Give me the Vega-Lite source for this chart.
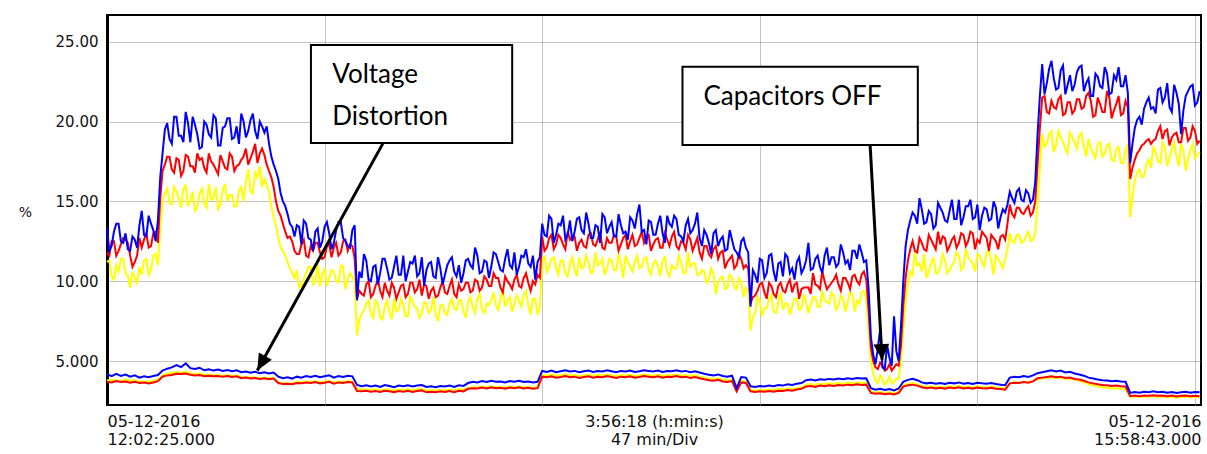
{
"$schema": "https://vega.github.io/schema/vega-lite/v6.json",
"width": 1094, "height": 390,
"autosize": {"type": "none"},
"padding": {"left": 107, "top": 15, "right": 6, "bottom": 49},
"background": "white",
"config": {"view": {"stroke": "black", "strokeWidth": 2}, "font": "DejaVu Sans"},
"datasets": {
"thd": [
{"t":0,"B":13.3,"R":11.8,"Y":11.2,"b":4.18,"r":3.70,"y":3.78},
{"t":1,"B":12.2,"R":12.5,"Y":10.3,"b":4.05,"r":3.66,"y":3.82},
{"t":2,"B":13.6,"R":11.6,"Y":11.0,"b":4.20,"r":3.75,"y":3.80},
{"t":3,"B":12.5,"R":12.3,"Y":11.4,"b":4.07,"r":3.68,"y":3.74},
{"t":4,"B":13.0,"R":12.6,"Y":10.5,"b":4.15,"r":3.72,"y":3.85},
{"t":5,"B":11.9,"R":11.6,"Y":9.6,"b":4.02,"r":3.64,"y":3.76},
{"t":6,"B":12.6,"R":11.2,"Y":10.2,"b":4.10,"r":3.70,"y":3.80},
{"t":7,"B":13.5,"R":12.7,"Y":10.9,"b":3.96,"r":3.62,"y":3.70},
{"t":8,"B":12.9,"R":12.6,"Y":11.3,"b":4.05,"r":3.66,"y":3.72},
{"t":9,"B":14.1,"R":12.1,"Y":10.4,"b":3.98,"r":3.60,"y":3.70},
{"t":10,"B":13.2,"R":13.0,"Y":11.6,"b":4.06,"r":3.66,"y":3.76},
{"t":11,"B":13.8,"R":12.4,"Y":11.0,"b":4.12,"r":3.74,"y":3.82},
{"t":12,"B":18.0,"R":16.9,"Y":15.0,"b":4.40,"r":4.02,"y":4.12},
{"t":13,"B":19.9,"R":17.8,"Y":15.8,"b":4.52,"r":4.10,"y":4.20},
{"t":14,"B":18.6,"R":17.0,"Y":14.8,"b":4.60,"r":4.12,"y":4.25},
{"t":15,"B":20.3,"R":17.7,"Y":15.6,"b":4.75,"r":4.20,"y":4.30},
{"t":16,"B":19.1,"R":16.6,"Y":14.6,"b":4.62,"r":4.18,"y":4.26},
{"t":17,"B":20.6,"R":17.9,"Y":16.0,"b":4.85,"r":4.22,"y":4.32},
{"t":18,"B":18.7,"R":17.2,"Y":15.1,"b":4.55,"r":4.14,"y":4.22},
{"t":19,"B":19.8,"R":16.8,"Y":14.4,"b":4.50,"r":4.10,"y":4.18},
{"t":20,"B":18.3,"R":17.6,"Y":15.5,"b":4.58,"r":4.12,"y":4.20},
{"t":21,"B":20.0,"R":17.1,"Y":14.9,"b":4.42,"r":4.05,"y":4.14},
{"t":22,"B":19.2,"R":18.0,"Y":16.1,"b":4.48,"r":4.08,"y":4.16},
{"t":23,"B":20.4,"R":17.3,"Y":15.2,"b":4.40,"r":4.04,"y":4.10},
{"t":24,"B":18.5,"R":16.7,"Y":14.5,"b":4.46,"r":4.06,"y":4.12},
{"t":25,"B":19.6,"R":17.5,"Y":15.7,"b":4.38,"r":4.02,"y":4.08},
{"t":26,"B":20.2,"R":17.0,"Y":15.0,"b":4.44,"r":4.06,"y":4.12},
{"t":27,"B":18.9,"R":17.8,"Y":15.4,"b":4.36,"r":4.00,"y":4.06},
{"t":28,"B":19.7,"R":17.2,"Y":14.7,"b":4.42,"r":4.04,"y":4.10},
{"t":29,"B":20.5,"R":17.6,"Y":15.9,"b":4.30,"r":3.92,"y":3.98},
{"t":30,"B":19.0,"R":18.3,"Y":16.2,"b":4.34,"r":3.96,"y":4.00},
{"t":31,"B":20.1,"R":17.7,"Y":15.6,"b":4.26,"r":3.90,"y":3.96},
{"t":32,"B":19.4,"R":18.6,"Y":16.8,"b":4.32,"r":3.94,"y":3.98},
{"t":33,"B":20.0,"R":18.0,"Y":17.2,"b":4.24,"r":3.88,"y":3.92},
{"t":34,"B":19.3,"R":17.9,"Y":16.4,"b":4.30,"r":3.92,"y":3.96},
{"t":35,"B":18.6,"R":16.9,"Y":15.6,"b":4.22,"r":3.86,"y":3.92},
{"t":36,"B":17.3,"R":15.9,"Y":14.0,"b":4.28,"r":3.90,"y":3.94},
{"t":37,"B":16.4,"R":14.4,"Y":12.7,"b":4.02,"r":3.62,"y":3.66},
{"t":38,"B":15.0,"R":13.6,"Y":11.9,"b":3.92,"r":3.56,"y":3.60},
{"t":39,"B":14.2,"R":12.7,"Y":11.2,"b":3.98,"r":3.58,"y":3.62},
{"t":40,"B":13.4,"R":12.5,"Y":10.5,"b":3.90,"r":3.54,"y":3.58},
{"t":41,"B":13.5,"R":11.7,"Y":10.7,"b":4.02,"r":3.62,"y":3.70},
{"t":42,"B":12.3,"R":12.3,"Y":9.8,"b":3.96,"r":3.60,"y":3.66},
{"t":43,"B":13.6,"R":11.6,"Y":10.5,"b":4.06,"r":3.66,"y":3.72},
{"t":44,"B":12.6,"R":12.2,"Y":10.9,"b":4.00,"r":3.62,"y":3.68},
{"t":45,"B":13.1,"R":12.4,"Y":10.0,"b":4.08,"r":3.68,"y":3.74},
{"t":46,"B":12.1,"R":11.8,"Y":9.7,"b":3.98,"r":3.60,"y":3.66},
{"t":47,"B":13.4,"R":11.5,"Y":10.8,"b":4.04,"r":3.64,"y":3.70},
{"t":48,"B":13.0,"R":12.3,"Y":10.2,"b":4.10,"r":3.70,"y":3.76},
{"t":49,"B":12.4,"R":12.1,"Y":10.6,"b":3.96,"r":3.58,"y":3.66},
{"t":50,"B":13.7,"R":11.6,"Y":9.9,"b":4.06,"r":3.66,"y":3.72},
{"t":51,"B":12.7,"R":12.5,"Y":10.9,"b":4.00,"r":3.62,"y":3.68},
{"t":52,"B":12.2,"R":11.9,"Y":10.1,"b":4.08,"r":3.68,"y":3.74},
{"t":53,"B":13.2,"R":12.2,"Y":10.3,"b":4.04,"r":3.66,"y":3.70},
{"t":54,"B":8.8,"R":8.9,"Y":6.6,"b":3.50,"r":3.12,"y":3.24},
{"t":55,"B":10.2,"R":9.2,"Y":7.9,"b":3.42,"r":3.10,"y":3.20},
{"t":56,"B":11.3,"R":9.8,"Y":8.6,"b":3.48,"r":3.14,"y":3.22},
{"t":57,"B":10.0,"R":9.0,"Y":8.0,"b":3.40,"r":3.08,"y":3.18},
{"t":58,"B":11.0,"R":9.7,"Y":8.8,"b":3.46,"r":3.12,"y":3.24},
{"t":59,"B":10.5,"R":9.4,"Y":7.7,"b":3.38,"r":3.06,"y":3.16},
{"t":60,"B":11.4,"R":9.9,"Y":8.4,"b":3.50,"r":3.14,"y":3.22},
{"t":61,"B":10.1,"R":9.1,"Y":8.1,"b":3.44,"r":3.10,"y":3.20},
{"t":62,"B":10.9,"R":9.6,"Y":8.9,"b":3.36,"r":3.04,"y":3.14},
{"t":63,"B":10.4,"R":9.3,"Y":8.2,"b":3.46,"r":3.12,"y":3.22},
{"t":64,"B":11.6,"R":9.8,"Y":8.5,"b":3.42,"r":3.08,"y":3.18},
{"t":65,"B":10.6,"R":9.2,"Y":7.8,"b":3.48,"r":3.14,"y":3.24},
{"t":66,"B":11.1,"R":9.9,"Y":8.7,"b":3.40,"r":3.06,"y":3.16},
{"t":67,"B":10.3,"R":9.5,"Y":8.3,"b":3.46,"r":3.12,"y":3.22},
{"t":68,"B":11.5,"R":9.1,"Y":8.0,"b":3.50,"r":3.16,"y":3.26},
{"t":69,"B":10.7,"R":9.7,"Y":8.6,"b":3.38,"r":3.04,"y":3.14},
{"t":70,"B":11.2,"R":9.4,"Y":8.2,"b":3.42,"r":3.08,"y":3.18},
{"t":71,"B":10.2,"R":9.0,"Y":7.9,"b":3.36,"r":3.04,"y":3.14},
{"t":72,"B":10.8,"R":9.6,"Y":8.5,"b":3.44,"r":3.10,"y":3.20},
{"t":73,"B":10.4,"R":9.3,"Y":8.0,"b":3.40,"r":3.06,"y":3.16},
{"t":74,"B":11.3,"R":9.7,"Y":8.6,"b":3.46,"r":3.12,"y":3.22},
{"t":75,"B":10.6,"R":9.2,"Y":8.3,"b":3.38,"r":3.04,"y":3.16},
{"t":76,"B":11.0,"R":9.8,"Y":8.8,"b":3.48,"r":3.14,"y":3.24},
{"t":77,"B":10.5,"R":9.5,"Y":8.1,"b":3.44,"r":3.10,"y":3.20},
{"t":78,"B":11.4,"R":9.9,"Y":8.7,"b":3.62,"r":3.26,"y":3.32},
{"t":79,"B":10.8,"R":9.4,"Y":8.4,"b":3.70,"r":3.30,"y":3.36},
{"t":80,"B":11.6,"R":10.0,"Y":8.9,"b":3.66,"r":3.28,"y":3.34},
{"t":81,"B":10.6,"R":9.6,"Y":8.2,"b":3.74,"r":3.34,"y":3.40},
{"t":82,"B":11.2,"R":10.1,"Y":8.6,"b":3.68,"r":3.28,"y":3.34},
{"t":83,"B":10.9,"R":9.7,"Y":8.8,"b":3.76,"r":3.36,"y":3.42},
{"t":84,"B":11.7,"R":10.2,"Y":8.5,"b":3.70,"r":3.30,"y":3.36},
{"t":85,"B":10.7,"R":9.6,"Y":8.9,"b":3.72,"r":3.32,"y":3.38},
{"t":86,"B":11.4,"R":10.3,"Y":8.4,"b":3.66,"r":3.26,"y":3.32},
{"t":87,"B":11.0,"R":9.8,"Y":9.0,"b":3.74,"r":3.34,"y":3.40},
{"t":88,"B":11.8,"R":10.1,"Y":8.6,"b":3.70,"r":3.30,"y":3.36},
{"t":89,"B":10.9,"R":9.7,"Y":8.8,"b":3.76,"r":3.36,"y":3.42},
{"t":90,"B":11.5,"R":10.2,"Y":9.1,"b":3.68,"r":3.28,"y":3.34},
{"t":91,"B":11.1,"R":9.9,"Y":8.5,"b":3.72,"r":3.32,"y":3.38},
{"t":92,"B":11.6,"R":10.0,"Y":8.9,"b":3.66,"r":3.26,"y":3.32},
{"t":93,"B":11.2,"R":10.4,"Y":7.9,"b":3.70,"r":3.30,"y":3.36},
{"t":94,"B":13.6,"R":12.8,"Y":11.2,"b":4.38,"r":4.02,"y":4.14},
{"t":95,"B":12.8,"R":12.1,"Y":10.6,"b":4.32,"r":3.98,"y":4.10},
{"t":96,"B":13.9,"R":12.9,"Y":11.4,"b":4.40,"r":4.04,"y":4.16},
{"t":97,"B":12.9,"R":12.3,"Y":10.8,"b":4.30,"r":3.96,"y":4.08},
{"t":98,"B":13.5,"R":12.7,"Y":11.3,"b":4.36,"r":4.00,"y":4.12},
{"t":99,"B":12.6,"R":12.0,"Y":10.5,"b":4.42,"r":4.06,"y":4.16},
{"t":100,"B":13.8,"R":12.6,"Y":11.1,"b":4.34,"r":3.98,"y":4.10},
{"t":101,"B":13.1,"R":12.8,"Y":10.7,"b":4.38,"r":4.02,"y":4.12},
{"t":102,"B":14.0,"R":12.4,"Y":11.5,"b":4.30,"r":3.94,"y":4.06},
{"t":103,"B":13.0,"R":12.2,"Y":10.9,"b":4.36,"r":4.00,"y":4.10},
{"t":104,"B":13.6,"R":12.9,"Y":11.2,"b":4.40,"r":4.04,"y":4.14},
{"t":105,"B":12.7,"R":12.3,"Y":10.6,"b":4.32,"r":3.96,"y":4.08},
{"t":106,"B":13.4,"R":12.6,"Y":11.0,"b":4.38,"r":4.02,"y":4.12},
{"t":107,"B":14.2,"R":12.1,"Y":11.4,"b":4.34,"r":3.98,"y":4.10},
{"t":108,"B":13.0,"R":12.7,"Y":10.8,"b":4.42,"r":4.06,"y":4.16},
{"t":109,"B":13.7,"R":12.4,"Y":11.3,"b":4.36,"r":4.00,"y":4.10},
{"t":110,"B":12.8,"R":12.8,"Y":10.7,"b":4.30,"r":3.94,"y":4.06},
{"t":111,"B":13.5,"R":12.3,"Y":11.1,"b":4.38,"r":4.02,"y":4.12},
{"t":112,"B":13.1,"R":12.9,"Y":11.6,"b":4.34,"r":3.98,"y":4.08},
{"t":113,"B":14.0,"R":12.5,"Y":10.9,"b":4.40,"r":4.04,"y":4.14},
{"t":114,"B":13.3,"R":12.2,"Y":11.2,"b":4.32,"r":3.96,"y":4.06},
{"t":115,"B":14.8,"R":12.7,"Y":10.8,"b":4.36,"r":4.00,"y":4.10},
{"t":116,"B":13.2,"R":12.4,"Y":11.4,"b":4.42,"r":4.06,"y":4.16},
{"t":117,"B":13.8,"R":12.9,"Y":10.7,"b":4.38,"r":4.02,"y":4.12},
{"t":118,"B":12.9,"R":12.3,"Y":11.1,"b":4.34,"r":3.98,"y":4.08},
{"t":119,"B":13.6,"R":12.7,"Y":10.9,"b":4.40,"r":4.04,"y":4.14},
{"t":120,"B":13.0,"R":12.1,"Y":11.3,"b":4.32,"r":3.96,"y":4.06},
{"t":121,"B":14.1,"R":12.6,"Y":10.6,"b":4.38,"r":4.02,"y":4.12},
{"t":122,"B":13.4,"R":12.8,"Y":11.0,"b":4.36,"r":4.00,"y":4.10},
{"t":123,"B":13.9,"R":12.2,"Y":10.8,"b":4.42,"r":4.06,"y":4.16},
{"t":124,"B":12.8,"R":12.5,"Y":11.2,"b":4.34,"r":3.98,"y":4.08},
{"t":125,"B":13.5,"R":12.0,"Y":10.5,"b":4.38,"r":4.02,"y":4.12},
{"t":126,"B":13.0,"R":12.6,"Y":10.9,"b":4.30,"r":3.94,"y":4.06},
{"t":127,"B":13.6,"R":12.3,"Y":11.1,"b":4.36,"r":4.00,"y":4.10},
{"t":128,"B":12.7,"R":11.8,"Y":10.4,"b":4.28,"r":3.92,"y":4.02},
{"t":129,"B":13.2,"R":12.2,"Y":10.6,"b":4.20,"r":3.86,"y":3.96},
{"t":130,"B":12.4,"R":11.7,"Y":10.1,"b":4.14,"r":3.80,"y":3.90},
{"t":131,"B":13.0,"R":12.0,"Y":10.5,"b":4.10,"r":3.76,"y":3.86},
{"t":132,"B":12.2,"R":11.4,"Y":9.9,"b":4.16,"r":3.82,"y":3.90},
{"t":133,"B":12.8,"R":11.9,"Y":10.3,"b":4.06,"r":3.72,"y":3.82},
{"t":134,"B":12.0,"R":11.2,"Y":9.6,"b":4.02,"r":3.68,"y":3.78},
{"t":135,"B":12.6,"R":11.6,"Y":10.2,"b":4.08,"r":3.74,"y":3.84},
{"t":136,"B":11.8,"R":11.0,"Y":9.5,"b":3.30,"r":3.10,"y":3.20},
{"t":137,"B":12.5,"R":11.4,"Y":9.9,"b":4.00,"r":3.66,"y":3.76},
{"t":138,"B":12.1,"R":11.0,"Y":9.6,"b":3.96,"r":3.62,"y":3.72},
{"t":139,"B":8.4,"R":8.6,"Y":6.9,"b":3.42,"r":3.10,"y":3.18},
{"t":140,"B":10.4,"R":9.1,"Y":8.0,"b":3.38,"r":3.06,"y":3.14},
{"t":141,"B":11.4,"R":9.8,"Y":8.8,"b":3.44,"r":3.10,"y":3.20},
{"t":142,"B":10.2,"R":9.3,"Y":8.3,"b":3.40,"r":3.08,"y":3.16},
{"t":143,"B":11.6,"R":9.9,"Y":8.9,"b":3.46,"r":3.12,"y":3.22},
{"t":144,"B":10.6,"R":9.2,"Y":8.1,"b":3.42,"r":3.08,"y":3.18},
{"t":145,"B":11.1,"R":9.7,"Y":8.7,"b":3.50,"r":3.14,"y":3.24},
{"t":146,"B":10.3,"R":9.4,"Y":8.2,"b":3.46,"r":3.12,"y":3.22},
{"t":147,"B":11.5,"R":9.8,"Y":8.6,"b":3.54,"r":3.18,"y":3.28},
{"t":148,"B":10.8,"R":9.3,"Y":8.4,"b":3.50,"r":3.14,"y":3.24},
{"t":149,"B":11.2,"R":9.9,"Y":8.9,"b":3.58,"r":3.22,"y":3.30},
{"t":150,"B":10.5,"R":9.5,"Y":8.3,"b":3.62,"r":3.26,"y":3.34},
{"t":151,"B":11.3,"R":9.6,"Y":8.7,"b":3.80,"r":3.40,"y":3.52},
{"t":152,"B":10.7,"R":9.2,"Y":8.5,"b":3.84,"r":3.44,"y":3.56},
{"t":153,"B":11.4,"R":9.8,"Y":9.0,"b":3.78,"r":3.38,"y":3.50},
{"t":154,"B":10.9,"R":9.5,"Y":8.4,"b":3.86,"r":3.46,"y":3.58},
{"t":155,"B":11.6,"R":10.0,"Y":8.8,"b":3.82,"r":3.42,"y":3.54},
{"t":156,"B":11.0,"R":9.7,"Y":8.6,"b":3.88,"r":3.48,"y":3.60},
{"t":157,"B":11.5,"R":10.1,"Y":9.1,"b":3.84,"r":3.44,"y":3.56},
{"t":158,"B":11.1,"R":9.8,"Y":8.5,"b":3.90,"r":3.50,"y":3.62},
{"t":159,"B":11.8,"R":10.2,"Y":8.9,"b":3.86,"r":3.46,"y":3.58},
{"t":160,"B":11.3,"R":9.9,"Y":8.7,"b":3.92,"r":3.52,"y":3.64},
{"t":161,"B":11.9,"R":10.3,"Y":9.2,"b":3.88,"r":3.48,"y":3.60},
{"t":162,"B":11.4,"R":10.0,"Y":8.8,"b":3.94,"r":3.54,"y":3.66},
{"t":163,"B":11.8,"R":10.4,"Y":9.3,"b":3.90,"r":3.50,"y":3.62},
{"t":164,"B":11.3,"R":10.1,"Y":8.9,"b":3.92,"r":3.52,"y":3.64},
{"t":165,"B":6.5,"R":5.8,"Y":5.0,"b":3.30,"r":3.00,"y":3.10},
{"t":166,"B":4.8,"R":4.6,"Y":3.8,"b":3.20,"r":2.95,"y":3.02},
{"t":167,"B":7.0,"R":4.9,"Y":4.1,"b":3.26,"r":2.98,"y":3.06},
{"t":168,"B":4.5,"R":4.4,"Y":3.5,"b":3.18,"r":2.92,"y":3.00},
{"t":169,"B":5.2,"R":4.8,"Y":4.0,"b":3.24,"r":2.96,"y":3.04},
{"t":170,"B":7.8,"R":4.6,"Y":3.7,"b":3.16,"r":2.90,"y":2.98},
{"t":171,"B":5.0,"R":4.7,"Y":3.9,"b":3.28,"r":3.00,"y":3.08},
{"t":172,"B":10.0,"R":8.5,"Y":7.0,"b":3.70,"r":3.40,"y":3.50},
{"t":173,"B":13.2,"R":11.3,"Y":9.8,"b":3.82,"r":3.48,"y":3.56},
{"t":174,"B":14.3,"R":12.5,"Y":10.4,"b":3.88,"r":3.52,"y":3.60},
{"t":175,"B":13.6,"R":11.8,"Y":11.0,"b":3.80,"r":3.46,"y":3.54},
{"t":176,"B":14.5,"R":12.4,"Y":10.6,"b":3.66,"r":3.36,"y":3.44},
{"t":177,"B":13.7,"R":11.9,"Y":10.2,"b":3.60,"r":3.30,"y":3.38},
{"t":178,"B":14.2,"R":12.6,"Y":11.1,"b":3.64,"r":3.34,"y":3.42},
{"t":179,"B":13.5,"R":12.0,"Y":10.5,"b":3.58,"r":3.28,"y":3.36},
{"t":180,"B":14.6,"R":12.3,"Y":10.9,"b":3.62,"r":3.32,"y":3.40},
{"t":181,"B":13.8,"R":12.7,"Y":11.3,"b":3.56,"r":3.26,"y":3.34},
{"t":182,"B":14.4,"R":12.2,"Y":10.7,"b":3.64,"r":3.34,"y":3.42},
{"t":183,"B":13.9,"R":12.8,"Y":11.2,"b":3.60,"r":3.30,"y":3.38},
{"t":184,"B":15.1,"R":12.4,"Y":11.6,"b":3.66,"r":3.36,"y":3.44},
{"t":185,"B":14.0,"R":12.9,"Y":10.9,"b":3.58,"r":3.28,"y":3.36},
{"t":186,"B":14.7,"R":12.5,"Y":11.5,"b":3.62,"r":3.32,"y":3.40},
{"t":187,"B":13.9,"R":13.0,"Y":11.1,"b":3.56,"r":3.26,"y":3.34},
{"t":188,"B":14.8,"R":12.6,"Y":11.7,"b":3.64,"r":3.34,"y":3.42},
{"t":189,"B":14.1,"R":13.1,"Y":11.2,"b":3.60,"r":3.30,"y":3.38},
{"t":190,"B":14.5,"R":12.7,"Y":11.8,"b":3.58,"r":3.28,"y":3.36},
{"t":191,"B":13.9,"R":12.9,"Y":11.3,"b":3.62,"r":3.32,"y":3.40},
{"t":192,"B":14.6,"R":12.5,"Y":11.6,"b":3.56,"r":3.26,"y":3.34},
{"t":193,"B":14.0,"R":12.8,"Y":11.1,"b":3.52,"r":3.24,"y":3.32},
{"t":194,"B":14.3,"R":12.6,"Y":11.4,"b":3.48,"r":3.20,"y":3.28},
{"t":195,"B":15.6,"R":14.8,"Y":13.0,"b":3.96,"r":3.60,"y":3.62},
{"t":196,"B":14.9,"R":14.0,"Y":12.4,"b":4.02,"r":3.64,"y":3.66},
{"t":197,"B":15.8,"R":14.6,"Y":12.9,"b":3.98,"r":3.62,"y":3.64},
{"t":198,"B":15.0,"R":14.2,"Y":12.5,"b":4.06,"r":3.68,"y":3.70},
{"t":199,"B":15.5,"R":14.7,"Y":13.1,"b":4.00,"r":3.64,"y":3.66},
{"t":200,"B":15.1,"R":14.3,"Y":12.6,"b":4.10,"r":3.72,"y":3.74},
{"t":201,"B":19.2,"R":17.3,"Y":14.8,"b":4.24,"r":3.92,"y":3.86},
{"t":202,"B":23.6,"R":21.5,"Y":19.2,"b":4.30,"r":3.96,"y":3.90},
{"t":203,"B":22.4,"R":20.6,"Y":18.6,"b":4.36,"r":4.00,"y":3.94},
{"t":204,"B":23.8,"R":21.3,"Y":19.4,"b":4.42,"r":4.04,"y":3.98},
{"t":205,"B":22.0,"R":20.8,"Y":18.5,"b":4.34,"r":3.98,"y":3.92},
{"t":206,"B":23.2,"R":21.6,"Y":19.0,"b":4.40,"r":4.02,"y":3.96},
{"t":207,"B":21.7,"R":20.5,"Y":18.3,"b":4.28,"r":3.94,"y":3.88},
{"t":208,"B":22.9,"R":21.2,"Y":19.3,"b":4.32,"r":3.96,"y":3.90},
{"t":209,"B":22.3,"R":20.7,"Y":18.7,"b":4.22,"r":3.88,"y":3.82},
{"t":210,"B":23.4,"R":21.4,"Y":19.1,"b":4.16,"r":3.84,"y":3.76},
{"t":211,"B":21.9,"R":20.9,"Y":18.4,"b":4.08,"r":3.76,"y":3.68},
{"t":212,"B":22.7,"R":21.8,"Y":18.9,"b":3.96,"r":3.66,"y":3.56},
{"t":213,"B":21.6,"R":20.3,"Y":18.0,"b":3.90,"r":3.60,"y":3.48},
{"t":214,"B":22.8,"R":21.5,"Y":18.6,"b":3.84,"r":3.54,"y":3.40},
{"t":215,"B":22.1,"R":20.6,"Y":17.8,"b":3.80,"r":3.50,"y":3.36},
{"t":216,"B":23.0,"R":21.9,"Y":18.5,"b":3.78,"r":3.48,"y":3.32},
{"t":217,"B":21.8,"R":20.2,"Y":17.6,"b":3.74,"r":3.44,"y":3.28},
{"t":218,"B":22.6,"R":21.1,"Y":18.3,"b":3.76,"r":3.46,"y":3.30},
{"t":219,"B":22.2,"R":20.4,"Y":17.4,"b":3.72,"r":3.42,"y":3.26},
{"t":220,"B":22.9,"R":21.3,"Y":18.2,"b":3.70,"r":3.40,"y":3.24},
{"t":221,"B":17.4,"R":16.4,"Y":14.0,"b":3.00,"r":2.80,"y":2.76},
{"t":222,"B":19.6,"R":17.6,"Y":16.3,"b":3.06,"r":2.84,"y":2.78},
{"t":223,"B":20.3,"R":18.2,"Y":17.0,"b":3.02,"r":2.80,"y":2.74},
{"t":224,"B":20.8,"R":18.6,"Y":16.6,"b":3.08,"r":2.84,"y":2.78},
{"t":225,"B":21.5,"R":18.9,"Y":17.6,"b":3.04,"r":2.82,"y":2.76},
{"t":226,"B":20.9,"R":18.8,"Y":18.4,"b":3.10,"r":2.86,"y":2.80},
{"t":227,"B":22.0,"R":19.4,"Y":17.5,"b":3.04,"r":2.82,"y":2.74},
{"t":228,"B":21.2,"R":18.9,"Y":18.7,"b":3.08,"r":2.84,"y":2.78},
{"t":229,"B":22.4,"R":19.5,"Y":17.2,"b":3.02,"r":2.80,"y":2.72},
{"t":230,"B":20.6,"R":19.0,"Y":18.3,"b":3.06,"r":2.84,"y":2.76},
{"t":231,"B":21.8,"R":19.3,"Y":17.8,"b":3.00,"r":2.78,"y":2.70},
{"t":232,"B":19.2,"R":18.7,"Y":18.6,"b":3.04,"r":2.82,"y":2.74},
{"t":233,"B":21.6,"R":19.6,"Y":16.9,"b":3.08,"r":2.84,"y":2.78},
{"t":234,"B":22.2,"R":19.0,"Y":18.2,"b":3.02,"r":2.80,"y":2.72},
{"t":235,"B":21.0,"R":19.4,"Y":17.7,"b":3.06,"r":2.82,"y":2.76},
{"t":236,"B":21.9,"R":18.8,"Y":18.1,"b":3.04,"r":2.80,"y":2.74},
{"t":0.5,"B":11.9,"R":11.6,"Y":11.3},{"t":1.5,"B":13.1,"R":12.5,"Y":10.1},{"t":2.5,"B":13.6,"R":11.9,"Y":10.6},{"t":3.5,"B":12.4,"R":12.7,"Y":11.4},
{"t":4.5,"B":12.0,"R":12.4,"Y":10.3},{"t":5.5,"B":12.8,"R":10.9,"Y":10.6},{"t":6.5,"B":12.1,"R":11.6,"Y":9.9},{"t":7.5,"B":14.4,"R":12.1,"Y":10.4},
{"t":8.5,"B":12.8,"R":13.0,"Y":11.4},{"t":9.5,"B":13.6,"R":12.2,"Y":10.7},{"t":10.5,"B":12.5,"R":13.1,"Y":11.7},{"t":11.5,"B":16.5,"R":15.2,"Y":13.4},
{"t":12.5,"B":19.5,"R":17.3,"Y":15.5},{"t":13.5,"B":18.9,"R":17.8,"Y":14.9},{"t":14.5,"B":20.3,"R":16.8,"Y":15.9},{"t":15.5,"B":19.1,"R":17.6,"Y":15.2},
{"t":16.5,"B":18.7,"R":16.9,"Y":15.8},{"t":17.5,"B":19.9,"R":17.8,"Y":14.7},{"t":18.5,"B":20.3,"R":17.2,"Y":15.6},{"t":19.5,"B":19.2,"R":18.0,"Y":14.6},
{"t":20.5,"B":18.4,"R":17.7,"Y":15.8},{"t":21.5,"B":19.8,"R":16.8,"Y":14.6},{"t":22.5,"B":19.0,"R":17.5,"Y":15.1},{"t":23.5,"B":20.2,"R":17.0,"Y":15.9},
{"t":24.5,"B":18.5,"R":17.9,"Y":14.8},{"t":25.5,"B":19.7,"R":17.1,"Y":16.1},{"t":26.5,"B":20.2,"R":18.0,"Y":15.4},{"t":27.5,"B":19.0,"R":16.9,"Y":14.7},
{"t":28.5,"B":18.6,"R":17.3,"Y":15.7},{"t":29.5,"B":20.0,"R":17.8,"Y":15.0},{"t":30.5,"B":19.4,"R":17.3,"Y":17.0},{"t":31.5,"B":20.5,"R":18.1,"Y":15.5},
{"t":32.5,"B":18.9,"R":17.4,"Y":16.5},{"t":33.5,"B":19.7,"R":18.3,"Y":15.9},{"t":34.5,"B":19.7,"R":17.3,"Y":16.0},{"t":35.5,"B":17.8,"R":16.5,"Y":14.7},
{"t":36.5,"B":16.9,"R":15.0,"Y":13.5},{"t":37.5,"B":15.5,"R":14.1,"Y":12.1},{"t":38.5,"B":14.7,"R":13.1,"Y":11.6},{"t":39.5,"B":13.6,"R":12.8,"Y":10.8},
{"t":40.5,"B":12.8,"R":11.9,"Y":10.2},{"t":41.5,"B":13.4,"R":11.7,"Y":9.6},{"t":42.5,"B":13.8,"R":12.6,"Y":10.1},{"t":43.5,"B":12.7,"R":11.5,"Y":10.9},
{"t":44.5,"B":11.9,"R":11.9,"Y":9.8},{"t":45.5,"B":13.3,"R":12.4,"Y":11.1},{"t":46.5,"B":12.5,"R":11.4,"Y":10.4},{"t":47.5,"B":13.7,"R":12.2,"Y":9.7},
{"t":48.5,"B":12.0,"R":11.5,"Y":10.7},{"t":49.5,"B":13.2,"R":12.4,"Y":10.0},{"t":50.5,"B":13.7,"R":11.8,"Y":11.0},{"t":51.5,"B":12.5,"R":12.6,"Y":9.5},
{"t":52.5,"B":12.1,"R":12.3,"Y":10.5},{"t":53.5,"B":13.5,"R":11.4,"Y":9.9},{"t":54.5,"B":10.6,"R":9.4,"Y":7.6},{"t":55.5,"B":11.7,"R":9.1,"Y":8.2},
{"t":56.5,"B":10.1,"R":10.0,"Y":8.8},{"t":57.5,"B":10.9,"R":9.2,"Y":7.7},{"t":58.5,"B":9.8,"R":10.1,"Y":8.6},{"t":59.5,"B":11.4,"R":9.0,"Y":7.6},
{"t":60.5,"B":10.8,"R":9.4,"Y":8.8},{"t":61.5,"B":10.2,"R":9.9,"Y":7.6},{"t":62.5,"B":11.6,"R":8.9,"Y":8.1},{"t":63.5,"B":10.4,"R":9.7,"Y":8.9},
{"t":64.5,"B":10.0,"R":9.0,"Y":7.8},{"t":65.5,"B":11.2,"R":9.9,"Y":9.1},{"t":66.5,"B":11.6,"R":9.3,"Y":8.4},{"t":67.5,"B":10.5,"R":10.1,"Y":7.7},
{"t":68.5,"B":9.7,"R":9.8,"Y":8.7},{"t":69.5,"B":11.1,"R":8.9,"Y":8.0},{"t":70.5,"B":10.3,"R":9.6,"Y":9.0},{"t":71.5,"B":11.5,"R":9.1,"Y":7.5},
{"t":72.5,"B":9.8,"R":10.0,"Y":8.5},{"t":73.5,"B":11.0,"R":9.2,"Y":7.9},{"t":74.5,"B":11.5,"R":10.1,"Y":8.9},{"t":75.5,"B":10.3,"R":9.0,"Y":8.2},
{"t":76.5,"B":9.9,"R":9.4,"Y":8.8},{"t":77.5,"B":11.3,"R":9.9,"Y":7.7},{"t":78.5,"B":11.0,"R":9.3,"Y":9.0},{"t":79.5,"B":12.1,"R":10.1,"Y":8.0},
{"t":80.5,"B":10.5,"R":9.4,"Y":9.2},{"t":81.5,"B":11.3,"R":10.3,"Y":8.0},{"t":82.5,"B":10.2,"R":9.7,"Y":8.5},{"t":83.5,"B":11.8,"R":10.5,"Y":9.3},
{"t":84.5,"B":11.2,"R":10.2,"Y":8.2},{"t":85.5,"B":10.6,"R":9.3,"Y":9.5},{"t":86.5,"B":12.0,"R":10.0,"Y":8.8},{"t":87.5,"B":10.8,"R":9.5,"Y":8.1},
{"t":88.5,"B":10.4,"R":10.4,"Y":9.1},{"t":89.5,"B":11.6,"R":9.6,"Y":8.4},{"t":90.5,"B":12.0,"R":10.5,"Y":9.4},{"t":91.5,"B":10.9,"R":9.4,"Y":7.9},
{"t":92.5,"B":10.1,"R":9.8,"Y":8.9},{"t":93.5,"B":11.5,"R":10.2,"Y":8.4},{"t":94.5,"B":12.9,"R":11.9,"Y":11.6},{"t":95.5,"B":14.1,"R":12.7,"Y":10.9},
{"t":96.5,"B":12.4,"R":12.0,"Y":11.5},{"t":97.5,"B":13.6,"R":12.9,"Y":10.4},{"t":98.5,"B":14.1,"R":12.3,"Y":11.3},{"t":99.5,"B":12.9,"R":13.1,"Y":10.3},
{"t":100.5,"B":12.5,"R":12.8,"Y":11.5},{"t":101.5,"B":13.9,"R":11.9,"Y":10.3},{"t":102.5,"B":13.2,"R":12.6,"Y":10.8},{"t":103.5,"B":14.3,"R":12.1,"Y":11.6},
{"t":104.5,"B":12.7,"R":13.0,"Y":10.5},{"t":105.5,"B":13.5,"R":12.2,"Y":11.8},{"t":106.5,"B":12.4,"R":13.1,"Y":11.1},{"t":107.5,"B":14.0,"R":12.0,"Y":10.4},
{"t":108.5,"B":13.4,"R":12.4,"Y":11.4},{"t":109.5,"B":12.8,"R":12.9,"Y":10.7},{"t":110.5,"B":14.2,"R":11.9,"Y":11.7},{"t":111.5,"B":13.0,"R":12.7,"Y":10.2},
{"t":112.5,"B":12.6,"R":12.0,"Y":11.2},{"t":113.5,"B":13.8,"R":12.9,"Y":10.6},{"t":114.5,"B":14.2,"R":12.3,"Y":11.6},{"t":115.5,"B":13.1,"R":13.1,"Y":10.9},
{"t":116.5,"B":12.3,"R":12.8,"Y":11.5},{"t":117.5,"B":13.7,"R":11.9,"Y":10.4},{"t":118.5,"B":12.9,"R":12.6,"Y":11.3},{"t":119.5,"B":14.1,"R":12.1,"Y":10.3},
{"t":120.5,"B":12.4,"R":13.0,"Y":11.5},{"t":121.5,"B":13.6,"R":12.2,"Y":10.3},{"t":122.5,"B":14.1,"R":13.1,"Y":10.8},{"t":123.5,"B":12.9,"R":12.0,"Y":11.6},
{"t":124.5,"B":12.5,"R":12.4,"Y":10.5},{"t":125.5,"B":13.9,"R":12.9,"Y":11.8},{"t":126.5,"B":13.2,"R":11.9,"Y":11.1},{"t":127.5,"B":14.3,"R":12.7,"Y":10.4},
{"t":128.5,"B":12.2,"R":11.4,"Y":10.7},{"t":129.5,"B":12.9,"R":12.2,"Y":9.9},{"t":130.5,"B":11.7,"R":11.5,"Y":10.8},{"t":131.5,"B":13.2,"R":12.2,"Y":9.2},
{"t":132.5,"B":12.6,"R":11.8,"Y":10.2},{"t":133.5,"B":11.9,"R":10.8,"Y":9.5},{"t":134.5,"B":13.2,"R":11.4,"Y":10.4},{"t":135.5,"B":12.0,"R":10.8,"Y":9.6},
{"t":136.5,"B":11.5,"R":11.7,"Y":10.2},{"t":137.5,"B":12.7,"R":10.8,"Y":9.0},{"t":138.5,"B":11.8,"R":10.8,"Y":9.4},{"t":139.5,"B":10.7,"R":9.0,"Y":7.8},
{"t":140.5,"B":9.9,"R":9.4,"Y":9.0},{"t":141.5,"B":11.3,"R":9.9,"Y":7.8},{"t":142.5,"B":10.5,"R":8.9,"Y":8.3},{"t":143.5,"B":11.7,"R":9.7,"Y":9.1},
{"t":144.5,"B":10.0,"R":9.0,"Y":8.0},{"t":145.5,"B":11.2,"R":9.9,"Y":9.3},{"t":146.5,"B":11.7,"R":9.3,"Y":8.6},{"t":147.5,"B":10.5,"R":10.1,"Y":7.9},
{"t":148.5,"B":10.1,"R":9.8,"Y":8.9},{"t":149.5,"B":11.5,"R":8.9,"Y":8.2},{"t":150.5,"B":10.8,"R":9.6,"Y":9.2},{"t":151.5,"B":12.4,"R":9.6,"Y":8.0},
{"t":152.5,"B":10.8,"R":10.5,"Y":9.0},{"t":153.5,"B":11.6,"R":9.7,"Y":8.4},{"t":154.5,"B":10.5,"R":10.6,"Y":9.4},{"t":155.5,"B":12.1,"R":9.5,"Y":8.7},
{"t":156.5,"B":11.5,"R":9.9,"Y":9.3},{"t":157.5,"B":10.9,"R":10.4,"Y":8.2},{"t":158.5,"B":12.3,"R":9.4,"Y":9.1},{"t":159.5,"B":11.1,"R":10.2,"Y":8.1},
{"t":160.5,"B":10.7,"R":9.5,"Y":9.3},{"t":161.5,"B":11.9,"R":10.4,"Y":8.1},{"t":162.5,"B":12.3,"R":9.8,"Y":8.6},{"t":163.5,"B":11.2,"R":10.6,"Y":9.4},
{"t":164.5,"B":9.5,"R":8.2,"Y":7.0},{"t":165.5,"B":5.4,"R":5.0,"Y":4.2},{"t":166.5,"B":5.8,"R":4.5,"Y":3.6},{"t":167.5,"B":4.6,"R":4.7,"Y":3.9},
{"t":168.5,"B":6.0,"R":4.5,"Y":3.7},{"t":169.5,"B":4.7,"R":4.4,"Y":3.6},{"t":170.5,"B":5.6,"R":4.8,"Y":3.9},{"t":171.5,"B":7.2,"R":6.0,"Y":5.0},
{"t":172.5,"B":12.2,"R":10.2,"Y":8.8},{"t":173.5,"B":13.8,"R":12.0,"Y":10.6},{"t":174.5,"B":14.1,"R":11.9,"Y":11.8},{"t":175.5,"B":15.2,"R":12.7,"Y":11.1},
{"t":176.5,"B":13.6,"R":12.0,"Y":11.7},{"t":177.5,"B":14.4,"R":12.9,"Y":10.6},{"t":178.5,"B":13.3,"R":12.3,"Y":11.5},{"t":179.5,"B":14.9,"R":13.1,"Y":10.5},
{"t":180.5,"B":14.3,"R":12.8,"Y":11.7},{"t":181.5,"B":13.7,"R":11.9,"Y":10.5},{"t":182.5,"B":15.1,"R":12.6,"Y":11.0},{"t":183.5,"B":13.9,"R":12.1,"Y":11.8},
{"t":184.5,"B":13.5,"R":13.0,"Y":10.7},{"t":185.5,"B":14.7,"R":12.2,"Y":12.0},{"t":186.5,"B":15.1,"R":13.1,"Y":11.3},{"t":187.5,"B":14.0,"R":12.0,"Y":10.6},
{"t":188.5,"B":13.2,"R":12.4,"Y":11.6},{"t":189.5,"B":14.6,"R":12.9,"Y":10.9},{"t":190.5,"B":13.8,"R":11.9,"Y":11.9},{"t":191.5,"B":15.0,"R":12.7,"Y":10.4},
{"t":192.5,"B":13.3,"R":12.0,"Y":11.4},{"t":193.5,"B":14.5,"R":12.9,"Y":10.8},{"t":194.5,"B":14.8,"R":13.6,"Y":12.0},{"t":195.5,"B":15.2,"R":14.2,"Y":12.5},
{"t":196.5,"B":15.6,"R":14.6,"Y":12.9},{"t":197.5,"B":15.1,"R":14.3,"Y":12.4},{"t":198.5,"B":15.7,"R":14.5,"Y":12.8},{"t":199.5,"B":14.9,"R":14.1,"Y":12.5},
{"t":200.5,"B":16.2,"R":15.0,"Y":13.0},{"t":201.5,"B":21.6,"R":19.6,"Y":17.1},{"t":202.5,"B":21.7,"R":21.6,"Y":18.4},{"t":203.5,"B":23.3,"R":20.5,"Y":19.2},
{"t":204.5,"B":22.7,"R":20.9,"Y":18.1},{"t":205.5,"B":22.1,"R":21.4,"Y":19.4},{"t":206.5,"B":23.5,"R":20.4,"Y":18.7},{"t":207.5,"B":22.3,"R":21.2,"Y":18.0},
{"t":208.5,"B":21.9,"R":20.5,"Y":19.0},{"t":209.5,"B":23.1,"R":21.4,"Y":18.3},{"t":210.5,"B":23.5,"R":20.8,"Y":19.3},{"t":211.5,"B":22.4,"R":21.6,"Y":17.8},
{"t":212.5,"B":21.6,"R":21.3,"Y":18.3},{"t":213.5,"B":23.0,"R":20.4,"Y":17.7},{"t":214.5,"B":22.2,"R":21.1,"Y":18.7},{"t":215.5,"B":23.4,"R":20.6,"Y":18.0},
{"t":216.5,"B":21.7,"R":21.5,"Y":18.6},{"t":217.5,"B":22.9,"R":20.7,"Y":17.5},{"t":218.5,"B":23.4,"R":21.6,"Y":18.4},{"t":219.5,"B":22.2,"R":20.5,"Y":17.4},
{"t":220.5,"B":21.8,"R":20.9,"Y":18.6},{"t":221.5,"B":18.6,"R":17.1,"Y":15.3},{"t":222.5,"B":20.1,"R":18.0,"Y":16.8},{"t":223.5,"B":19.8,"R":18.5,"Y":16.5},
{"t":224.5,"B":21.2,"R":18.8,"Y":17.3},{"t":225.5,"B":20.8,"R":18.6,"Y":17.1},{"t":226.5,"B":20.5,"R":18.9,"Y":18.1},{"t":227.5,"B":22.1,"R":19.7,"Y":17.4},
{"t":228.5,"B":21.5,"R":19.4,"Y":18.4},{"t":229.5,"B":20.9,"R":18.5,"Y":17.7},{"t":230.5,"B":22.3,"R":19.2,"Y":18.7},{"t":231.5,"B":21.1,"R":18.7,"Y":17.2},
{"t":232.5,"B":20.7,"R":19.6,"Y":18.2},{"t":233.5,"B":21.9,"R":18.8,"Y":17.6},{"t":234.5,"B":22.3,"R":19.7,"Y":18.6},{"t":235.5,"B":21.2,"R":18.6,"Y":17.9}
],
"boxes": [
{"t":44.05,"t2":87.52,"v":24.79,"v2":18.66},
{"t":124.3,"t2":175.13,"v":23.43,"v2":18.53}
],
"labels": [
{"label":"Voltage","t":48.65,"v":22.41},
{"label":"Distortion","t":48.65,"v":19.78},
{"label":"Capacitors OFF","t":128.83,"v":21.03}
],
"arrows": [
{"name":"a1","t":59.66,"v":18.66,"t2":32.46,"v2":4.40},
{"name":"a2","t":164.83,"v":18.53,"t2":167.42,"v2":5.07}
]
},
"resolve": {"axis": {"x": "independent", "y": "independent"}},
"layer": [
{
"data": {"name": "thd"},
"transform": [{"fold": ["Y", "y"], "as": ["k", "val"]}, {"filter": "isValid(datum.val)"}],
"mark": {"type": "line", "color": "#FFFF00", "strokeWidth": 2},
"encoding": {
"x": {"field": "t", "type": "quantitative", "scale": {"domain": [0, 236.3], "nice": false, "zero": false},
"axis": {"orient": "bottom", "values": [0, 236.3], "grid": false, "ticks": false, "domain": false, "labelFlush": true, "labelOverlap": false, "labelBound": false,
"labelExpr": "datum.value < 100 ? ['05-12-2016', '12:02:25.000'] : ['05-12-2016', '15:58:43.000']",
"labelFont": "DejaVu Sans", "labelFontSize": 16, "labelColor": "#111", "labelPadding": 8, "labelLineHeight": 18,
"title": ["3:56:18 (h:min:s)", "47 min/Div"], "titleFont": "DejaVu Sans", "titleFontSize": 16, "titleFontWeight": "normal", "titleColor": "#111", "titleLineHeight": 18, "titleY": 8, "titleBaseline": "top"}},
"y": {"field": "val", "type": "quantitative", "scale": {"domain": [2.245, 26.67], "nice": false, "zero": false},
"axis": {"orient": "left", "values": [5, 10, 15, 20, 25], "format": ".4r", "grid": true, "gridDash": [1, 1], "gridColor": "#888", "gridWidth": 1, "ticks": false, "domain": true, "domainColor": "black", "domainWidth": 3,
"labelFont": "DejaVu Sans", "labelFontSize": 15, "labelColor": "#111", "labelPadding": 9,
"title": "%", "titleAngle": 0, "titleX": -82, "titleY": 197, "titleAlign": "center", "titleBaseline": "middle", "titleFont": "DejaVu Sans", "titleFontSize": 14, "titleFontWeight": "normal", "titleColor": "#111"}},
"detail": {"field": "k"}
}
},
{
"data": {"name": "thd"},
"transform": [{"fold": ["R", "r"], "as": ["k", "val"]}, {"filter": "isValid(datum.val)"}],
"mark": {"type": "line", "color": "#FF0000", "strokeWidth": 2},
"encoding": {
"x": {"field": "t", "type": "quantitative", "axis": {"orient": "top", "values": [47, 94, 141, 188, 235], "grid": true, "gridDash": [1, 1], "gridColor": "#888", "gridWidth": 1, "labels": false, "ticks": false, "domain": false, "title": null}},
"y": {"field": "val", "type": "quantitative", "axis": null},
"detail": {"field": "k"}
}
},
{
"data": {"name": "thd"},
"transform": [{"fold": ["B", "b"], "as": ["k", "val"]}, {"filter": "isValid(datum.val)"}],
"mark": {"type": "line", "color": "#0000FF", "strokeWidth": 2},
"encoding": {
"x": {"field": "t", "type": "quantitative", "axis": null},
"y": {"field": "val", "type": "quantitative", "axis": null},
"detail": {"field": "k"}
}
},
{
"data": {"name": "boxes"},
"mark": {"type": "rect", "fill": "white", "stroke": "black", "strokeWidth": 2},
"encoding": {
"x": {"field": "t", "type": "quantitative", "axis": null},
"x2": {"field": "t2"},
"y": {"field": "v", "type": "quantitative", "axis": null},
"y2": {"field": "v2"}
}
},
{
"data": {"name": "arrows"},
"mark": {"type": "rule", "color": "black", "strokeWidth": 3},
"encoding": {
"x": {"field": "t", "type": "quantitative", "axis": null},
"x2": {"field": "t2"},
"y": {"field": "v", "type": "quantitative", "axis": null},
"y2": {"field": "v2"}
}
},
{
"data": {"name": "arrows"},
"transform": [{"filter": "datum.name == 'a1'"}],
"mark": {"type": "point", "shape": "M0,0L-0.45,1L0.45,1Z", "filled": true, "color": "black", "opacity": 1, "size": 1100, "angle": 209},
"encoding": {
"x": {"field": "t2", "type": "quantitative", "axis": null},
"y": {"field": "v2", "type": "quantitative", "axis": null}
}
},
{
"data": {"name": "arrows"},
"transform": [{"filter": "datum.name == 'a2'"}],
"mark": {"type": "point", "shape": "M0,0L-0.5,1L0.5,1Z", "filled": true, "color": "black", "opacity": 1, "size": 1000, "angle": 177},
"encoding": {
"x": {"field": "t2", "type": "quantitative", "axis": null},
"y": {"field": "v2", "type": "quantitative", "axis": null}
}
},
{
"data": {"name": "labels"},
"mark": {"type": "text", "align": "left", "baseline": "alphabetic", "font": "Lato", "fontSize": 26, "color": "black"},
"encoding": {
"x": {"field": "t", "type": "quantitative", "axis": null},
"y": {"field": "v", "type": "quantitative", "axis": null},
"text": {"field": "label"}
}
}
]
}
